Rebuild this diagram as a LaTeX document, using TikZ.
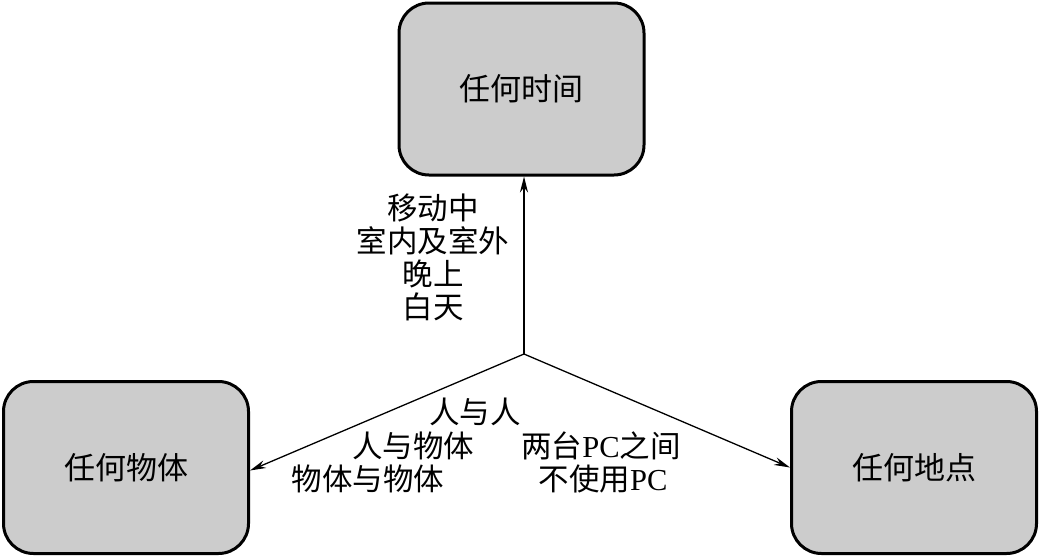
\documentclass[tikz,border=0pt]{standalone}
\usepackage{fontspec}
\setmainfont{Liberation Serif}
\newfontfamily\cjk{Noto Sans CJK SC}
\usetikzlibrary{arrows.meta}
\begin{document}
\begin{tikzpicture}[x=1pt,y=-1pt,
  box/.style={draw=black,line width=3pt,fill=boxgray,rounded corners=30pt,
    minimum width=245pt,minimum height=172pt,inner sep=0pt,
    font=\cjk\fontsize{31}{32}\selectfont},
  lbl/.style={inner sep=0pt,font=\cjk\fontsize{30.5}{33}\selectfont,align=center},
  conn/.style={line width=1.3pt,-{Stealth[length=16pt,width=8pt]}}]
\definecolor{boxgray}{RGB}{204,204,204}
\useasboundingbox (0,0) rectangle (1039,557);
\node[box] (T) at (521.5,89) {任何时间};
\node[box] (L) at (126,467.5) {任何物体};
\node[box] (R) at (914,467.5) {任何地点};
\coordinate (C) at (524,354);
\draw[conn] (C) -- (C |- T.south);
\draw[conn] (C) -- ([yshift=-3pt]L.east);
\draw[conn] (C) -- (R.west);
\node[lbl] (t1) at (433,208) {移动中};
\node[lbl] (t2) at (433,241) {室内及室外};
\node[lbl] (t3) at (433,274) {晚上};
\node[lbl] (t4) at (433,307) {白天};
\node[lbl] (l1) at (475,412) {人与人};
\node[lbl] (l2) at (413,446) {人与物体};
\node[lbl] (l3) at (368,479) {物体与物体};
\node[lbl,font=\fontsize{30.5}{33}\selectfont] (r1) at (601,446) {{\cjk 两台}PC{\cjk 之间}};
\node[lbl,font=\fontsize{30.5}{33}\selectfont] (r2) at (603,479) {{\cjk 不使用}PC};
\end{tikzpicture}
\end{document}
